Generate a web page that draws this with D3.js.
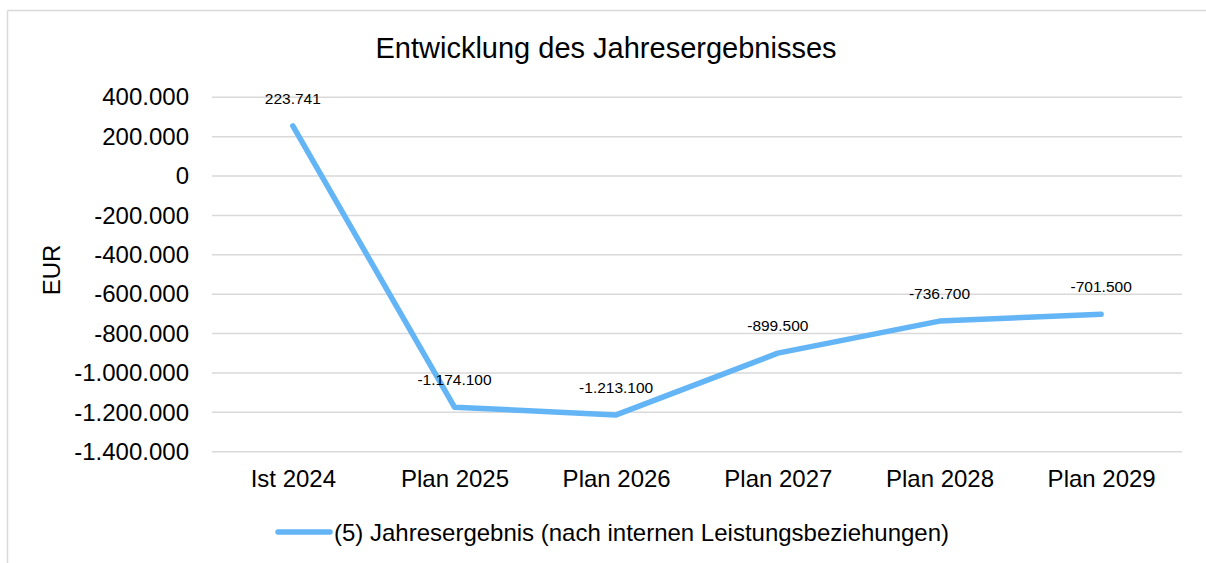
<!DOCTYPE html>
<html>
<head>
<meta charset="utf-8">
<script src="https://cdn.jsdelivr.net/npm/d3@7"></script>
<style>
  body { margin: 0; background: #fff; }
  svg { display: block; font-family: "Liberation Sans", Arial, sans-serif; }
</style>
</head>
<body>
<div id="chart"></div>
<script>
// data
var categories = ["Ist 2024", "Plan 2025", "Plan 2026", "Plan 2027", "Plan 2028", "Plan 2029"];
var values = [255000, -1174100, -1213100, -899500, -736700, -701500];
var labelTexts = ["223.741", "-1.174.100", "-1.213.100", "-899.500", "-736.700", "-701.500"];
var yTicks = [400000, 200000, 0, -200000, -400000, -600000, -800000, -1000000, -1200000, -1400000];
var seriesName = "(5) Jahresergebnis (nach internen Leistungsbeziehungen)";
var chartTitle = "Entwicklung des Jahresergebnisses";

var width = 1206, height = 563;
var margin = {top: 97.3, right: 24, bottom: 111.3, left: 212};
var innerWidth = width - margin.left - margin.right,
    innerHeight = height - margin.top - margin.bottom;
var lineColor = "#64b5f6";

// german thousands format, plain hyphen for minus
var fmt = function(d) {
  var s = d3.format(",")(Math.abs(d)).replace(/,/g, ".");
  return (d < 0 ? "-" : "") + s;
};

var svg = d3.select("#chart").append("svg")
    .attr("width", width)
    .attr("height", height);

// chart border: only top and left edges are in view
svg.append("line")
    .attr("x1", 7.5).attr("x2", width)
    .attr("y1", 10.5).attr("y2", 10.5)
    .attr("stroke", "#d9d9d9").attr("stroke-width", 1.5);
svg.append("line")
    .attr("x1", 7.5).attr("x2", 7.5)
    .attr("y1", 10.5).attr("y2", height)
    .attr("stroke", "#d9d9d9").attr("stroke-width", 1.5);

svg.append("text")
    .attr("x", 606).attr("y", 58)
    .attr("text-anchor", "middle")
    .attr("font-size", "29px")
    .attr("fill", "#000")
    .text(chartTitle);

var g = svg.append("g")
    .attr("transform", "translate(" + margin.left + "," + margin.top + ")");

var xScale = d3.scalePoint()
    .domain(categories)
    .range([0, innerWidth])
    .padding(0.5);

var yScale = d3.scaleLinear()
    .domain([-1400000, 400000])
    .range([innerHeight, 0]);

// gridlines
g.append("g")
    .attr("class", "grid")
    .selectAll("line")
    .data(yTicks)
    .enter().append("line")
    .attr("x1", 0).attr("x2", innerWidth)
    .attr("y1", function(d) { return yScale(d); })
    .attr("y2", function(d) { return yScale(d); })
    .attr("stroke", "#d9d9d9")
    .attr("stroke-width", 1.5);

// y axis
var yAxis = g.append("g")
    .attr("class", "y axis")
    .call(d3.axisLeft(yScale).tickValues(yTicks).tickFormat(fmt).tickSize(0).tickPadding(23))
    .attr("font-size", 24)
    .attr("font-family", "Liberation Sans, Arial, sans-serif");
yAxis.select(".domain").remove();
yAxis.selectAll("text").attr("fill", "#000");

// x axis
var xAxis = g.append("g")
    .attr("class", "x axis")
    .attr("transform", "translate(0," + innerHeight + ")")
    .call(d3.axisBottom(xScale).tickSize(0).tickPadding(18))
    .attr("font-size", 24)
    .attr("font-family", "Liberation Sans, Arial, sans-serif");
xAxis.select(".domain").remove();
xAxis.selectAll("text").attr("fill", "#000");

// y axis title
svg.append("text")
    .attr("transform", "translate(60,270) rotate(-90)")
    .attr("text-anchor", "middle")
    .attr("font-size", "24px")
    .attr("fill", "#000")
    .text("EUR");

// line
var line = d3.line()
    .x(function(d, i) { return xScale(categories[i]); })
    .y(function(d) { return yScale(d); });

g.append("path")
    .datum(values)
    .attr("d", line)
    .attr("fill", "none")
    .attr("stroke", lineColor)
    .attr("stroke-width", 5.5)
    .attr("stroke-linejoin", "round")
    .attr("stroke-linecap", "round");

// data labels
g.selectAll(".label")
    .data(values)
    .enter().append("text")
    .attr("class", "label")
    .attr("x", function(d, i) { return xScale(categories[i]); })
    .attr("y", function(d) { return yScale(d) - 22; })
    .attr("text-anchor", "middle")
    .attr("font-size", "15.5px")
    .attr("fill", "#000")
    .text(function(d, i) { return labelTexts[i]; });

// legend
var legend = svg.append("g").attr("transform", "translate(278,532)");
legend.append("line")
    .attr("x1", 0).attr("x2", 52)
    .attr("y1", 0).attr("y2", 0)
    .attr("stroke", lineColor)
    .attr("stroke-width", 5.5)
    .attr("stroke-linecap", "round");
legend.append("text")
    .attr("x", 56).attr("y", 8.5)
    .attr("font-size", "24px")
    .attr("fill", "#000")
    .text(seriesName);
</script>
</body>
</html>
